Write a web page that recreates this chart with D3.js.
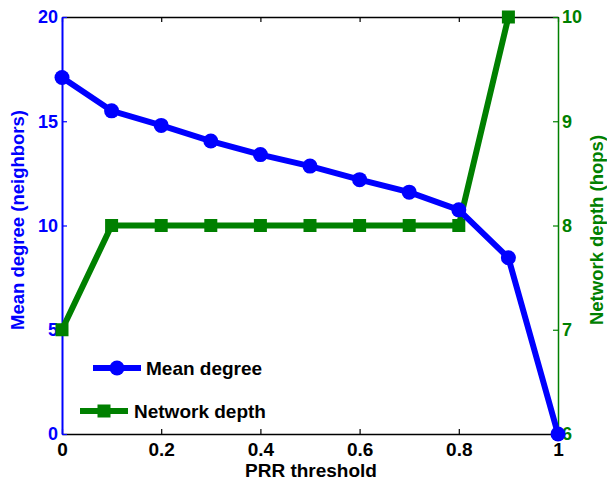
<!DOCTYPE html>
<html>
<head>
<meta charset="utf-8">
<script src="https://cdn.jsdelivr.net/npm/d3@7"></script>
<style>
body { margin: 0; background: #fff; }
text { font-family: "Liberation Sans", Arial, sans-serif; font-weight: bold; }
</style>
</head>
<body>
<script>
// --------- Data --------- //
var thresholds = [0, 0.1, 0.2, 0.3, 0.4, 0.5, 0.6, 0.7, 0.8, 0.9, 1];
var meanDegree = [17.1, 15.5, 14.8, 14.05, 13.4, 12.85, 12.2, 11.6, 10.75, 8.45, 0];
var depthThresholds = [0, 0.1, 0.2, 0.3, 0.4, 0.5, 0.6, 0.7, 0.8, 0.9];
var networkDepth = [7, 8, 8, 8, 8, 8, 8, 8, 8, 10];
var xTicks = [0, 0.2, 0.4, 0.6, 0.8, 1];
var leftTicks = [0, 5, 10, 15, 20];
var rightTicks = [6, 7, 8, 9, 10];

var blue = "#0000ff", green = "#008000";
var W = 607, H = 481;
var m = {left: 62, right: 49, top: 17, bottom: 47};

var svg = d3.select("body").append("svg").attr("width", W).attr("height", H);

var x = d3.scaleLinear().domain([0, 1]).range([m.left, W - m.right]);
var yL = d3.scaleLinear().domain([0, 20]).range([H - m.bottom, m.top]);
var yR = d3.scaleLinear().domain([6, 10]).range([H - m.bottom, m.top]);

// --------- Axes --------- //
function styleAxis(g, color, size){
	g.select(".domain").attr("stroke", color).attr("stroke-width", 1.5);
	g.selectAll(".tick line").attr("stroke", color).attr("stroke-width", 1.2);
	g.selectAll(".tick text").attr("fill", color).style("font-size", size + "px");
}

var gx = svg.append("g").attr("transform", "translate(0," + (H - m.bottom) + ")")
	.call(d3.axisBottom(x).tickValues(xTicks).tickSizeInner(-5).tickSizeOuter(0).tickPadding(9).tickFormat(d3.format("")));
styleAxis(gx, "#000", 19);

var gTop = svg.append("g").attr("transform", "translate(0," + m.top + ")")
	.call(d3.axisTop(x).tickValues(xTicks).tickSizeInner(-5).tickSizeOuter(0).tickFormat(""));
styleAxis(gTop, "#000", 19);

var gl = svg.append("g").attr("transform", "translate(" + m.left + ",0)")
	.call(d3.axisLeft(yL).tickValues(leftTicks).tickSizeInner(-5).tickSizeOuter(0).tickPadding(4));
styleAxis(gl, blue, 18);
gl.select(".domain").attr("stroke-width", 2);

var gr = svg.append("g").attr("transform", "translate(" + (W - m.right) + ",0)")
	.call(d3.axisRight(yR).tickValues(rightTicks).tickSizeInner(-5).tickSizeOuter(0).tickPadding(4).tickFormat(d3.format("d")));
styleAxis(gr, green, 18);

// axis labels
svg.append("text").attr("x", 311).attr("y", 477)
	.attr("text-anchor", "middle").style("font-size", "19px").text("PRR threshold");
svg.append("text").attr("transform", "translate(24,220) rotate(-90)")
	.attr("text-anchor", "middle").attr("fill", blue).style("font-size", "18.5px").text("Mean degree (neighbors)");
svg.append("text").attr("transform", "translate(603,230) rotate(-90)")
	.attr("text-anchor", "middle").attr("fill", green).style("font-size", "18.5px").text("Network depth (hops)");

// --------- Series --------- //
var depthData = depthThresholds.map(function(t, i){ return {x: t, y: networkDepth[i]}; });
var degData = thresholds.map(function(t, i){ return {x: t, y: meanDegree[i]}; });

svg.append("path").datum(depthData)
	.attr("fill", "none").attr("stroke", green).attr("stroke-width", 6)
	.attr("d", d3.line().x(function(d){ return x(d.x); }).y(function(d){ return yR(d.y); }));
svg.selectAll(".sq").data(depthData).enter().append("rect")
	.attr("x", function(d){ return x(d.x) - 6.5; })
	.attr("y", function(d){ return yR(d.y) - 6.5; })
	.attr("width", 13).attr("height", 13).attr("fill", green);

svg.append("path").datum(degData)
	.attr("fill", "none").attr("stroke", blue).attr("stroke-width", 6)
	.attr("d", d3.line().x(function(d){ return x(d.x); }).y(function(d){ return yL(d.y); }));
svg.selectAll(".dot").data(degData).enter().append("circle")
	.attr("cx", function(d){ return x(d.x); })
	.attr("cy", function(d){ return yL(d.y); })
	.attr("r", 7.5).attr("fill", blue);

// --------- Legend --------- //
var leg = svg.append("g");
leg.append("line").attr("x1", 93).attr("x2", 141).attr("y1", 368).attr("y2", 368)
	.attr("stroke", blue).attr("stroke-width", 6);
leg.append("circle").attr("cx", 117).attr("cy", 368).attr("r", 7.5).attr("fill", blue);
leg.append("text").attr("x", 146).attr("y", 375).style("font-size", "19px").text("Mean degree");

leg.append("line").attr("x1", 80).attr("x2", 128).attr("y1", 411).attr("y2", 411)
	.attr("stroke", green).attr("stroke-width", 6);
leg.append("rect").attr("x", 97.5).attr("y", 404.5).attr("width", 13).attr("height", 13).attr("fill", green);
leg.append("text").attr("x", 134).attr("y", 418).style("font-size", "19px").text("Network depth");
</script>
</body>
</html>
